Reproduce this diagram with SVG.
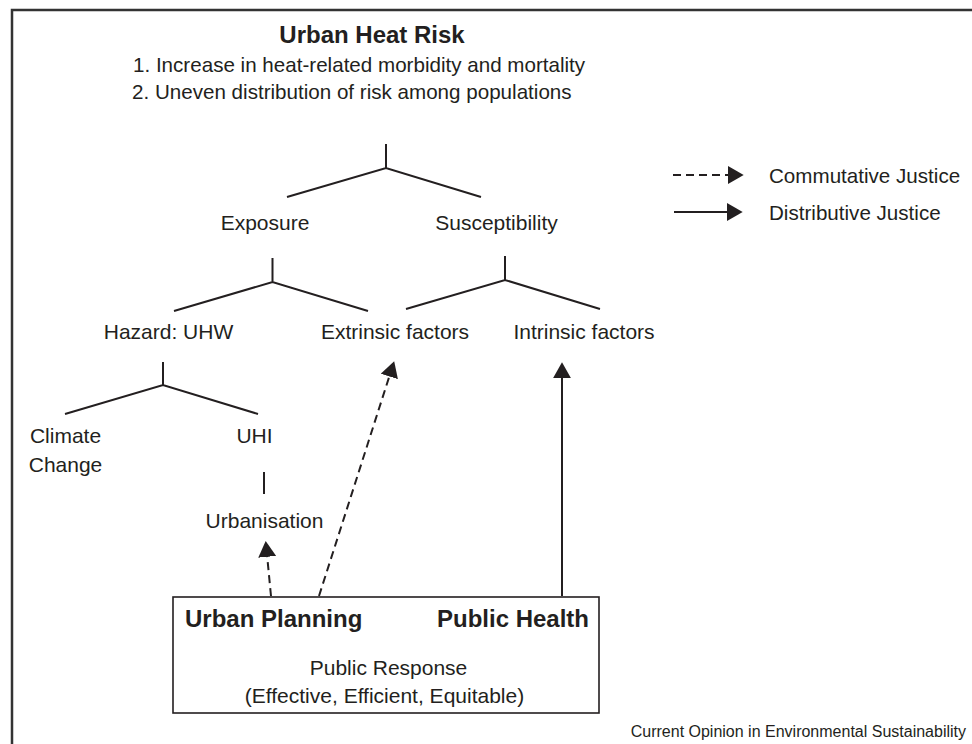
<svg xmlns="http://www.w3.org/2000/svg" width="972" height="744" viewBox="0 0 972 744">
<defs>
<style>
text{font-family:"Liberation Sans",Arial,sans-serif;fill:#231f20}
.lbl{font-size:21px;text-anchor:middle}
.hdr{font-size:20.6px}
.bold{font-weight:bold;font-size:24px}
.ln{stroke:#231f20;stroke-width:2;fill:none}
.dash{stroke-dasharray:8 5}
</style>
<marker id="ah" markerUnits="userSpaceOnUse" markerWidth="16" markerHeight="18" viewBox="0 0 15 17" refX="3" refY="8.5" orient="auto">
<path d="M0,0 L15,8.5 L0,17 z" fill="#231f20"/>
</marker>
</defs>
<rect width="972" height="744" fill="#fff"/>
<path id="frame" d="M12,744 V10 H972" fill="none" stroke="#333" stroke-width="2.5"/>

<g id="title">
<text class="bold" x="372" y="43" text-anchor="middle">Urban Heat Risk</text>
<text class="hdr" x="133" y="72">1. Increase in heat-related morbidity and mortality</text>
<text class="hdr" x="132" y="99">2. Uneven distribution of risk among populations</text>
</g>

<g id="exposure"><text class="lbl" x="265" y="230">Exposure</text></g>
<g id="susceptibility"><text class="lbl" x="496.5" y="230">Susceptibility</text></g>
<g id="hazard"><text class="lbl" x="168.5" y="339">Hazard: UHW</text></g>
<g id="extrinsic"><text class="lbl" x="395" y="339">Extrinsic factors</text></g>
<g id="intrinsic"><text class="lbl" x="584" y="339">Intrinsic factors</text></g>
<g id="climate"><text class="lbl" x="65.5" y="443">Climate</text><text class="lbl" x="65.5" y="472">Change</text></g>
<g id="uhi"><text class="lbl" x="254.5" y="443">UHI</text></g>
<g id="urbanisation"><text class="lbl" x="264.5" y="528">Urbanisation</text></g>

<g id="response">
<rect x="173" y="597" width="426" height="116" fill="none" stroke="#231f20" stroke-width="1.6"/>
<text class="bold" x="185" y="627">Urban Planning</text>
<text class="bold" x="589" y="627" text-anchor="end">Public Health</text>
<text class="lbl" x="388.5" y="675">Public Response</text>
<text class="lbl" x="384.5" y="703">(Effective, Efficient, Equitable)</text>
</g>

<g id="legend">
<line class="ln dash" x1="673" y1="175" x2="731" y2="175" marker-end="url(#ah)"/>
<line class="ln" x1="674" y1="212" x2="730" y2="212" marker-end="url(#ah)"/>
<text x="769" y="183" font-size="20.6">Commutative Justice</text>
<text x="769" y="220" font-size="20.6">Distributive Justice</text>
</g>

<g id="connectors">
<path class="ln" d="M386,144 V168 M287,197 L386,168 L481,197"/>
<path class="ln" d="M272.5,258 V282 M174,311 L272.5,282 L368,311"/>
<path class="ln" d="M505,256 V280 M406,309 L505,280 L600,309"/>
<path class="ln" d="M163,362 V385 M65,414 L163,385 L258,414"/>
<path class="ln" d="M264,472 V494"/>
<line class="ln dash" x1="271" y1="596" x2="266.9" y2="553.6" marker-end="url(#ah)"/>
<line class="ln dash" x1="319" y1="596" x2="390.3" y2="373.4" marker-end="url(#ah)"/>
<line class="ln" x1="562" y1="596" x2="562" y2="375" marker-end="url(#ah)"/>
</g>

<g id="credit"><text x="966" y="737" font-size="16" text-anchor="end">Current Opinion in Environmental Sustainability</text></g>
</svg>
